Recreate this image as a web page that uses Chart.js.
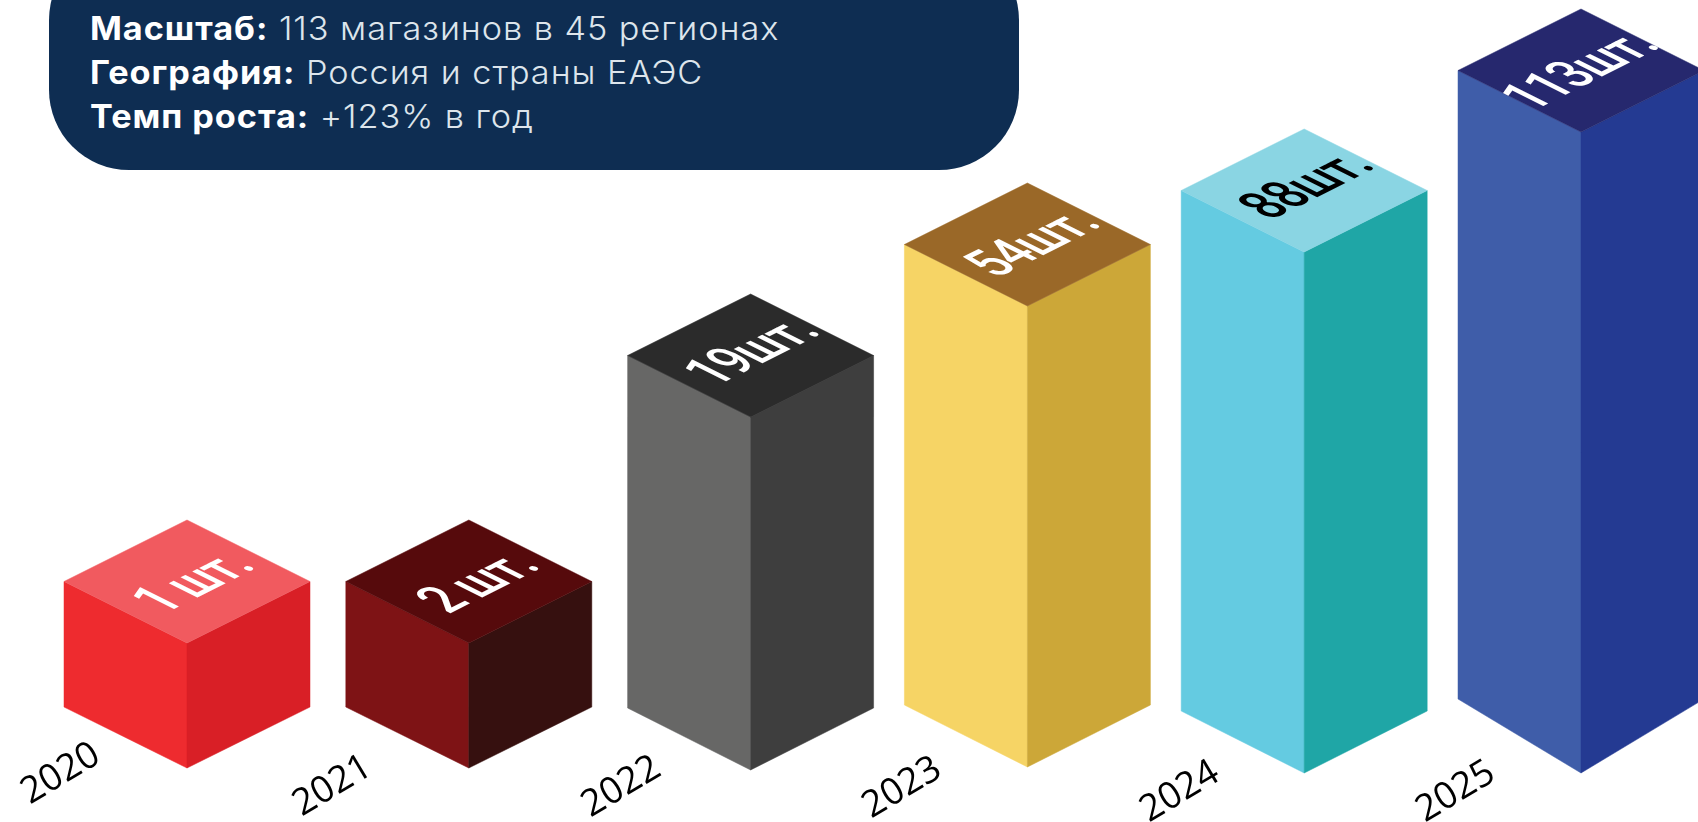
<!DOCTYPE html>
<html lang="ru"><head><meta charset="utf-8">
<script src="https://cdn.jsdelivr.net/npm/chart.js@4"></script>
<style>
html,body{margin:0;padding:0;background:#fff;overflow:hidden}
#wrap{position:relative;width:1698px;height:822px}
canvas{position:absolute;left:0;top:0}
#panel{position:absolute;left:49px;top:-60px;width:970px;height:230px;background:#0E2D52;border-radius:80px;overflow:hidden;color:#DDE5EC;font-family:Inter,"Noto Sans",sans-serif;font-size:32px;font-weight:300;letter-spacing:.9px;z-index:2}
#panel div{position:absolute;left:41px;white-space:nowrap;line-height:44px;transform:scaleX(1.07);transform-origin:0 0}
#panel b{font-weight:700;color:#fff;letter-spacing:.9px}
</style></head><body>
<div id="wrap">
<canvas id="c" width="1698" height="822"></canvas>
<div id="panel">
<div style="top:67px"><b>Масштаб:</b> 113 магазинов в 45 регионах</div>
<div style="top:111px"><b>География:</b> Россия и страны ЕАЭС</div>
<div style="top:155px"><b>Темп роста:</b> +123% в год</div>
</div>
</div>
<script>
const years=[2020,2021,2022,2023,2024,2025];
const storeCounts=[1,2,19,54,88,113];
const countLabels=["1 шт.","2 шт.","19шт.","54шт.","88шт.","113шт."];
const drawnHeights=[125,125,353,461,521,641];
const topColors=["#F15A5F","#560A0C","#2B2B2B","#9A6828","#8AD5E3","#26286E"];
const leftColors=["#EE2B2F","#7E1315","#676766","#F6D465","#64CBE1","#3F5DA9"];
const rightColors=["#D91F26","#36100F","#3E3E3E","#CCA738","#1FA6A6","#243A92"];
const textColors=["#fff","#fff","#fff","#fff","#000","#fff"];

// style: small hand nudges of the artwork, relative to scale positions
const nudgeX=[0,3,6,4,2,0], nudgeY=[-2,-2,0,-3,3,3];
const bottomDrop=[61,61,62,62,62,74];
const labelNudge=[[2,-4],[-5,8],[5,9],[7,10],[6,14],[3,14]];
const textNudge=[[4,0],[7,0],[-1,-5],[3,-2],[0,-6],[-3,-1]];
const HALF_W=123, HALF_D=61.5;

const isoPlugin={
  id:'isoBars',
  beforeDraw(chart){
    const items=chart.scales.x.getLabelItems();
    items.forEach((it,i)=>{
      const t=it.options.translation;
      if(!it._n&&labelNudge[i]){t[0]+=labelNudge[i][0];t[1]+=labelNudge[i][1];it._n=1;}
    });
  },
  afterDatasetsDraw(chart){
    const {ctx,scales:{x,y}}=chart;
    const y0=y.getPixelForValue(0);
    years.forEach((yr,i)=>{
      const cx=x.getPixelForValue(yr)+nudgeX[i];
      const base=y0+nudgeY[i];
      const front=y.getPixelForValue(drawnHeights[i])+nudgeY[i];
      const sideB=base-bottomDrop[i];
      const poly=(pts,c)=>{ctx.beginPath();pts.forEach((p,k)=>k?ctx.lineTo(p[0],p[1]):ctx.moveTo(p[0],p[1]));ctx.closePath();ctx.fillStyle=c;ctx.strokeStyle=c;ctx.lineWidth=.5;ctx.fill();ctx.stroke();};
      ctx.save();
      poly([[cx-HALF_W,front-HALF_D],[cx,front],[cx,base],[cx-HALF_W,sideB]],leftColors[i]);
      poly([[cx+HALF_W,front-HALF_D],[cx,front],[cx,base],[cx+HALF_W,sideB]],rightColors[i]);
      poly([[cx,front-2*HALF_D],[cx+HALF_W,front-HALF_D],[cx,front],[cx-HALF_W,front-HALF_D]],topColors[i]);
      ctx.translate(cx+textNudge[i][0],front-HALF_D+textNudge[i][1]);
      ctx.transform(1,-.5,1,.5,0,0);
      ctx.scale(.76,1);
      ctx.font='500 54px Roboto, sans-serif';
      ctx.letterSpacing='-1.5px';
      ctx.textAlign='center';ctx.textBaseline='alphabetic';
      ctx.fillStyle=textColors[i];
      ctx.fillText(countLabels[i],0,19);
      ctx.restore();
    });
  }
};

new Chart(document.getElementById('c'),{
  type:'bar',
  data:{labels:years,datasets:[{
    label:'Магазины',
    data:years.map((yr,i)=>({x:yr,y:drawnHeights[i]})),
    backgroundColor:'rgba(0,0,0,0)',borderWidth:0
  }]},
  options:{
    responsive:false,animation:false,
    layout:{padding:0},
    plugins:{legend:{display:false},tooltip:{enabled:false},title:{display:false}},
    scales:{
      x:{type:'linear',offset:false,min:2020-187/278.8,max:2020+(1698-187)/278.8,
        grid:{display:false,drawTicks:false},border:{display:false},
        beforeUpdate(s){s._calculatePadding=function(){this.paddingLeft=this.paddingRight=this.paddingTop=this.paddingBottom=0;};},
        afterFit(s){s.height=85;},
        ticks:{stepSize:1,includeBounds:false,autoSkip:false,minRotation:31,maxRotation:31,padding:0,
          labelOffset:-92,color:'#000',font:{family:'"Open Sans"',size:37},
          callback:v=>String(v)}},
      y:{display:false,min:33,max:770}
    }
  },
  plugins:[isoPlugin]
});
</script>
</body></html>
